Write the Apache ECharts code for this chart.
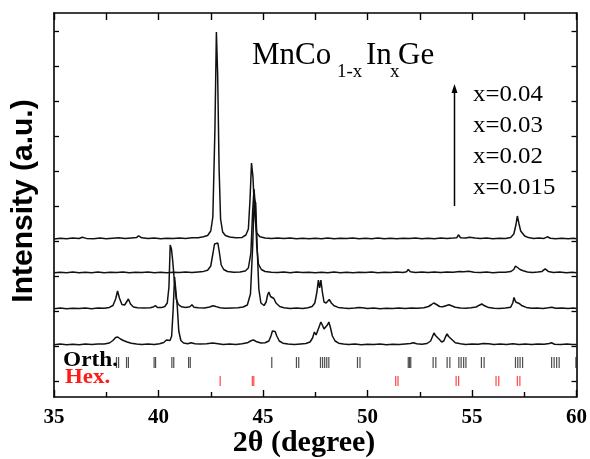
<!DOCTYPE html>
<html>
<head>
<meta charset="utf-8">
<script src="https://cdn.jsdelivr.net/npm/echarts@6/dist/echarts.min.js"></script>
<style>
  html, body { margin: 0; padding: 0; background: #fff; }
  #xrd-box { width: 590px; height: 459px; }
</style>
</head>
<body>
<div id="xrd-box"></div>
<script>
// offsets of each pattern (a.u.) - patterns are stacked
var offsets = [142, 108, 72, 36];
var sampleNames = ['x=0.04', 'x=0.03', 'x=0.02', 'x=0.015'];
var yTicks = [0, 35, 70, 105, 140, 175, 210, 245, 280, 315, 350];
var xTickLabels = ['35', '40', '45', '50', '55', '60'];

// [2theta, intensity above baseline]
var x004 = [
    [35.0, 0], [35.3, 0.8], [35.6, 0.2], [35.9, 0.9], [36.2, 0.5], [36.35, 1.8], [36.55, 0.6], [36.9, 0.2], [37.2, 0.9],
    [37.5, 0.3], [37.8, 0.8], [38.1, 1.2], [38.4, 0.4], [38.7, 1.0], [38.95, 1.4], [39.05, 3.2], [39.2, 1.2],
    [39.5, 0.4], [39.8, 0.9], [40.1, 0.2], [40.4, 0.8], [40.7, 0.4], [41.0, 0.9], [41.3, 0.6], [41.6, 1.2],
    [41.9, 1.3], [42.15, 2.2], [42.35, 3.5], [42.5, 8], [42.6, 22], [42.7, 110], [42.77, 207], [42.83, 165],
    [42.9, 70], [42.97, 20], [43.07, 7], [43.2, 3.5], [43.4, 2], [43.7, 1.2], [44.0, 1.6], [44.18, 4],
    [44.3, 10], [44.38, 40], [44.45, 76], [44.52, 62], [44.6, 25], [44.7, 6], [44.85, 2.2], [45.1, 1.1],
    [45.4, 0.4], [45.7, 1.0], [46.0, 0.4], [46.3, 1.0], [46.6, 0.3], [46.9, 0.8], [47.2, 0.2], [47.5, 0.7],
    [47.8, 0.3], [48.1, 0.9], [48.4, 0.2], [48.7, 0.7], [49.0, 0.4], [49.3, 0.9], [49.6, 0.2], [49.9, 0.7],
    [50.2, 0.3], [50.5, 0.9], [50.8, 0.3], [51.1, 0.7], [51.4, 0.2], [51.7, 0.8], [52.0, 0.4], [52.3, 0.9],
    [52.6, 0.3], [52.9, 0.7], [53.2, 0.3], [53.5, 0.9], [53.8, 0.5], [54.1, 0.9], [54.27, 1.2], [54.35, 4.2],
    [54.45, 1.3], [54.7, 1.0], [54.88, 1.8], [54.97, 2.7], [55.15, 1.1], [55.4, 0.5], [55.7, 0.9], [56.0, 0.3],
    [56.3, 0.8], [56.6, 0.6], [56.85, 1.6], [57.0, 5], [57.1, 14], [57.17, 23], [57.25, 15], [57.33, 8],
    [57.42, 6], [57.52, 3], [57.7, 1.4], [57.95, 0.5], [58.2, 0.9], [58.45, 0.6], [58.6, 2.2], [58.75, 0.7],
    [59.0, 0.3], [59.3, 0.8], [59.6, 0.3], [59.85, 0.7], [60.0, 0.2]
];
var x003 = [
    [35.0, 0.2], [35.3, 0.8], [35.6, 0.3], [35.9, 0.9], [36.2, 0.2], [36.5, 0.7], [36.8, 0.3], [37.1, 0.9],
    [37.4, 0.2], [37.7, 0.8], [38.0, 0.4], [38.3, 0.9], [38.6, 0.2], [38.9, 0.7], [39.2, 0.4], [39.5, 0.9],
    [39.8, 0.3], [40.1, 0.8], [40.4, 0.2], [40.7, 0.7], [41.0, 0.5], [41.3, 0.9], [41.6, 0.5], [41.9, 1.1],
    [42.15, 1.6], [42.35, 2.8], [42.5, 7], [42.6, 19], [42.68, 29], [42.76, 31], [42.84, 30], [42.91, 21],
    [43.0, 8], [43.12, 3.5], [43.3, 1.5], [43.6, 0.8], [43.9, 1.0], [44.15, 2], [44.3, 5], [44.42, 20],
    [44.5, 60], [44.57, 84], [44.63, 68], [44.7, 27], [44.78, 9], [44.92, 3.5], [45.1, 1.5], [45.4, 0.8],
    [45.7, 0.4], [46.0, 0.9], [46.3, 0.3], [46.6, 1.1], [46.9, 0.4], [47.2, 0.8], [47.5, 0.2], [47.8, 0.7],
    [48.1, 0.3], [48.4, 0.9], [48.7, 0.2], [49.0, 0.8], [49.3, 0.3], [49.6, 0.7], [49.9, 0.4], [50.2, 0.9],
    [50.5, 0.3], [50.8, 0.8], [51.1, 0.4], [51.4, 0.9], [51.7, 0.6], [51.87, 1.3], [51.95, 3.6], [52.05, 1.2],
    [52.3, 0.5], [52.6, 0.9], [52.9, 0.4], [53.2, 0.9], [53.5, 0.6], [53.8, 1.1], [54.1, 0.8], [54.4, 1.6],
    [54.6, 1.2], [54.85, 1.7], [55.1, 0.7], [55.4, 0.5], [55.7, 0.9], [56.0, 0.3], [56.3, 0.8], [56.6, 0.7],
    [56.85, 1.4], [57.0, 3.5], [57.08, 7], [57.18, 5.5], [57.3, 3.5], [57.45, 2.2], [57.65, 1.1], [57.9, 0.5],
    [58.15, 0.9], [58.35, 1.6], [58.5, 4.2], [58.65, 1.6], [58.9, 0.6], [59.2, 0.9], [59.5, 0.3], [59.8, 0.8],
    [60.0, 0.3]
];
var x002 = [
    [35.0, 0.3], [35.3, 0.9], [35.6, 0.2], [35.9, 0.8], [36.2, 0.4], [36.5, 0.9], [36.8, 0.3], [37.1, 1.0],
    [37.4, 0.8], [37.65, 1.6], [37.82, 3.5], [37.95, 10], [38.04, 18], [38.13, 11], [38.25, 4.5], [38.38, 4],
    [38.47, 6], [38.56, 10], [38.66, 5], [38.8, 2], [39.0, 1.2], [39.3, 0.9], [39.6, 1.3], [39.75, 2],
    [39.85, 3.4], [39.95, 1.5], [40.15, 1.4], [40.3, 2.5], [40.42, 6], [40.5, 22], [40.56, 64], [40.62, 60],
    [40.68, 48], [40.76, 28], [40.85, 10], [40.95, 4.5], [41.1, 2.2], [41.3, 1.6], [41.5, 2.2], [41.6, 4.2],
    [41.7, 1.8], [41.9, 1.2], [42.2, 1.0], [42.45, 2], [42.6, 3.2], [42.75, 2.4], [42.95, 1.2], [43.2, 0.7],
    [43.5, 1.1], [43.8, 1.3], [44.05, 2], [44.25, 4], [44.4, 15], [44.5, 60], [44.58, 110], [44.65, 106],
    [44.72, 62], [44.8, 20], [44.9, 6], [45.05, 3.5], [45.15, 7], [45.22, 14], [45.28, 17], [45.36, 12.5],
    [45.45, 11], [45.52, 10.5], [45.62, 6], [45.8, 2.5], [46.0, 1.3], [46.3, 0.6], [46.6, 1.0], [46.9, 0.5],
    [47.15, 1.2], [47.35, 2.5], [47.48, 6], [47.58, 17], [47.65, 29], [47.71, 21], [47.77, 29], [47.84, 17],
    [47.92, 7], [48.02, 6], [48.1, 8], [48.17, 9.5], [48.27, 6], [48.4, 3.2], [48.6, 1.6], [48.85, 1.0],
    [49.1, 0.6], [49.4, 0.9], [49.58, 1.5], [49.66, 3.3], [49.76, 1.2], [50.0, 0.5], [50.3, 0.9], [50.6, 0.3],
    [50.9, 0.8], [51.2, 0.4], [51.5, 0.9], [51.8, 0.5], [52.1, 1.0], [52.4, 0.7], [52.7, 1.3], [52.92, 2.5],
    [53.07, 4.5], [53.17, 6], [53.3, 4.5], [53.45, 2.5], [53.6, 2.2], [53.75, 3.2], [53.9, 4.2], [54.05, 3],
    [54.2, 1.8], [54.45, 1.1], [54.7, 0.8], [54.95, 1.2], [55.2, 2], [55.35, 3.8], [55.47, 5], [55.6, 3.2],
    [55.8, 1.4], [56.05, 0.8], [56.3, 0.5], [56.6, 1.0], [56.85, 1.8], [56.95, 6], [57.01, 11.5], [57.09, 7],
    [57.18, 5], [57.28, 5.2], [57.4, 3.2], [57.6, 1.6], [57.85, 0.8], [58.1, 1.1], [58.4, 0.6], [58.65, 1.2],
    [58.82, 1.8], [59.0, 0.7], [59.3, 1.0], [59.6, 0.4], [59.85, 0.9], [60.0, 0.4]
];
var x0015 = [
    [35.0, 0.2], [35.3, 0.9], [35.6, 0.3], [35.9, 0.8], [36.2, 0.2], [36.5, 0.9], [36.8, 0.4], [37.1, 0.9],
    [37.4, 1.1], [37.65, 2], [37.82, 4.5], [37.95, 7.5], [38.05, 8], [38.18, 6], [38.32, 4.5], [38.5, 3],
    [38.7, 1.8], [38.95, 1.0], [39.2, 0.6], [39.5, 0.9], [39.8, 0.6], [40.05, 1.2], [40.25, 2.5], [40.38, 5],
    [40.46, 5.5], [40.55, 4.5], [40.63, 9], [40.7, 35], [40.77, 68], [40.83, 70], [40.9, 38], [40.97, 14],
    [41.07, 4.5], [41.2, 2], [41.4, 1.3], [41.55, 2.2], [41.63, 3], [41.75, 1.2], [42.0, 0.9], [42.3, 1.2],
    [42.6, 1.9], [42.85, 1.2], [43.1, 0.5], [43.4, 0.9], [43.7, 0.6], [44.0, 1.2], [44.25, 2.2], [44.45, 4.5],
    [44.55, 5], [44.7, 3.2], [44.9, 2], [45.1, 2.2], [45.28, 4], [45.38, 9], [45.45, 14], [45.52, 12.5],
    [45.58, 13.5], [45.66, 9], [45.78, 4], [45.95, 1.8], [46.2, 0.9], [46.5, 0.4], [46.8, 1.0], [47.05, 1.5],
    [47.25, 3], [47.37, 7], [47.46, 13], [47.54, 10], [47.62, 12], [47.7, 19], [47.77, 23], [47.84, 20],
    [47.92, 16], [48.0, 14], [48.08, 20], [48.15, 23], [48.22, 18], [48.32, 9], [48.45, 4], [48.62, 1.8],
    [48.85, 0.9], [49.1, 0.4], [49.4, 0.9], [49.7, 0.3], [50.0, 0.8], [50.3, 0.4], [50.6, 0.9], [50.9, 0.3],
    [51.2, 0.8], [51.5, 0.5], [51.8, 1.0], [52.05, 1.4], [52.2, 2.2], [52.35, 1.2], [52.6, 0.8], [52.85, 1.5],
    [53.02, 4], [53.12, 9], [53.18, 12], [53.25, 9.5], [53.32, 11], [53.42, 6], [53.55, 3], [53.65, 4],
    [53.74, 8.5], [53.81, 11], [53.88, 8.5], [53.96, 10], [54.06, 5], [54.2, 2.2], [54.45, 1.2], [54.7, 0.6],
    [55.0, 0.9], [55.3, 0.7], [55.55, 1.6], [55.8, 1.2], [56.05, 0.5], [56.35, 0.9], [56.65, 0.4], [56.95, 1.2],
    [57.25, 0.6], [57.55, 1.0], [57.85, 0.4], [58.15, 0.9], [58.45, 0.8], [58.7, 1.5], [58.8, 2.3], [58.95, 0.8],
    [59.25, 0.5], [59.55, 0.9], [59.8, 0.4], [60.0, 0.6]
];

// reference reflections (2theta)
var orthPeaks = [37.99, 38.09, 38.47, 38.56, 39.79, 39.86, 40.64, 40.73, 41.44, 41.52, 45.42, 46.6, 46.71,
    47.75, 47.85, 47.95, 48.05, 48.15, 49.52, 49.64, 51.95, 52.01, 52.07, 53.14, 53.27, 53.81, 53.94,
    54.37, 54.48, 54.6, 54.71, 55.45, 55.58, 57.08, 57.19, 57.3, 57.42, 58.81, 58.93, 59.05, 59.17, 59.97];
var hexPeaks = [42.95, 44.49, 44.56, 51.35, 51.46, 54.24, 54.36, 56.15, 56.28, 57.17, 57.29];
var orthLevel = 18.5;
var hexLevel = 0;

var myChart = echarts.init(document.getElementById('xrd-box'), null, { renderer: 'canvas' });

var serif = "'Liberation Serif', 'Times New Roman', serif";
var sans = "'Liberation Sans', Arial, sans-serif";

var shift = function (pattern, off) {
    var res = [];
    for (var i = 0; i < pattern.length; i++) {
        res.push([pattern[i][0], pattern[i][1] + off]);
    }
    return res;
};

var patterns = [x004, x003, x002, x0015];
var series = [];
for (var i = 0; i < patterns.length; i++) {
    series.push({
        name: sampleNames[i],
        type: 'line',
        data: shift(patterns[i], offsets[i]),
        showSymbol: false,
        symbol: 'none',
        lineStyle: { color: '#111', width: 1.5 },
        z: 3
    });
}
series.push({
    name: 'Orth.',
    type: 'scatter',
    symbol: 'rect',
    symbolSize: [1.2, 11],
    itemStyle: { color: '#222' },
    data: orthPeaks.map(function (p) { return [p, orthLevel]; })
});
series.push({
    name: 'Hex.',
    type: 'scatter',
    symbol: 'rect',
    symbolSize: [1.2, 10],
    itemStyle: { color: '#ff1a1a' },
    data: hexPeaks.map(function (p) { return [p, hexLevel]; })
});

var frame = { show: true, onZero: false, lineStyle: { color: '#000', width: 1.6 } };

var option = {
    animation: false,
    backgroundColor: '#fff',
    grid: { left: 54, right: 11, top: 13, bottom: 62 },
    xAxis: [{
        type: 'value',
        min: 35,
        max: 60,
        interval: 5,
        position: 'bottom',
        axisLine: frame,
        axisTick: { inside: true, length: 7, lineStyle: { color: '#000', width: 1.4 } },
        minorTick: { show: true, splitNumber: 2, length: 5, lineStyle: { color: '#000', width: 1.4 } },
        splitLine: { show: false },
        axisLabel: {
            margin: 10,
            color: '#000',
            fontFamily: serif,
            fontWeight: 'bold',
            fontSize: 21,
            formatter: function (v) { return xTickLabels[(v - 35) / 5]; }
        }
    }, {
        type: 'value',
        min: 35,
        max: 60,
        interval: 2.5,
        position: 'top',
        axisLine: frame,
        axisTick: { inside: true, length: 7, lineStyle: { color: '#000', width: 1.4 } },
        splitLine: { show: false },
        axisLabel: { show: false }
    }],
    yAxis: [{
        type: 'value',
        min: -16,
        max: 368,
        position: 'left',
        axisLine: frame,
        axisTick: { inside: true, length: 5, customValues: yTicks, lineStyle: { color: '#000', width: 1.3 } },
        splitLine: { show: false },
        axisLabel: { show: false }
    }, {
        type: 'value',
        min: -16,
        max: 368,
        position: 'right',
        axisLine: frame,
        axisTick: { inside: true, length: 5, customValues: yTicks, lineStyle: { color: '#000', width: 1.3 } },
        splitLine: { show: false },
        axisLabel: { show: false }
    }],
    graphic: [
        // axis titles
        {
            type: 'text', x: 24, y: 201, rotation: Math.PI / 2,
            style: { text: 'Intensity (a.u.)', font: 'bold 30px ' + sans, fill: '#000', textAlign: 'center', textVerticalAlign: 'middle' }
        },
        {
            type: 'text', x: 304, y: 443,
            style: { text: '2θ (degree)', font: 'bold 30px ' + serif, fill: '#000', textAlign: 'center', textVerticalAlign: 'middle' }
        },
        // formula
        { type: 'text', x: 252, y: 56, style: { text: 'MnCo', font: '31px ' + serif, fill: '#000', textVerticalAlign: 'middle' } },
        { type: 'text', x: 337, y: 72, style: { text: '1-x', font: '19px ' + serif, fill: '#000', textVerticalAlign: 'middle' } },
        { type: 'text', x: 366, y: 56, style: { text: 'In', font: '31px ' + serif, fill: '#000', textVerticalAlign: 'middle' } },
        { type: 'text', x: 390, y: 72, style: { text: 'x', font: '19px ' + serif, fill: '#000', textVerticalAlign: 'middle' } },
        { type: 'text', x: 398, y: 56, style: { text: 'Ge', font: '31px ' + serif, fill: '#000', textVerticalAlign: 'middle' } },
        // sample labels + arrow
        { type: 'text', x: 473, y: 95, scaleX: 1.08, style: { text: sampleNames[0], font: '23px ' + serif, fill: '#000', textVerticalAlign: 'middle' } },
        { type: 'text', x: 473, y: 126, scaleX: 1.08, style: { text: sampleNames[1], font: '23px ' + serif, fill: '#000', textVerticalAlign: 'middle' } },
        { type: 'text', x: 473, y: 157, scaleX: 1.08, style: { text: sampleNames[2], font: '23px ' + serif, fill: '#000', textVerticalAlign: 'middle' } },
        { type: 'text', x: 473, y: 188, scaleX: 1.08, style: { text: sampleNames[3], font: '23px ' + serif, fill: '#000', textVerticalAlign: 'middle' } },
        { type: 'line', shape: { x1: 454.5, y1: 206, x2: 454.5, y2: 90 }, style: { stroke: '#000', lineWidth: 1.5 } },
        { type: 'polygon', shape: { points: [[451.5, 93], [454.5, 84], [457.5, 93]] }, style: { fill: '#000' } },
        // reference pattern labels
        { type: 'text', x: 63, y: 360, scaleX: 1.06, style: { text: 'Orth.', font: 'bold 22px ' + serif, fill: '#000', textVerticalAlign: 'middle' } },
        { type: 'text', x: 65, y: 377, scaleX: 1.04, style: { text: 'Hex.', font: 'bold 22px ' + serif, fill: '#ff1a1a', textVerticalAlign: 'middle' } }
    ],
    series: series
};
myChart.setOption(option);
</script>
</body>
</html>
